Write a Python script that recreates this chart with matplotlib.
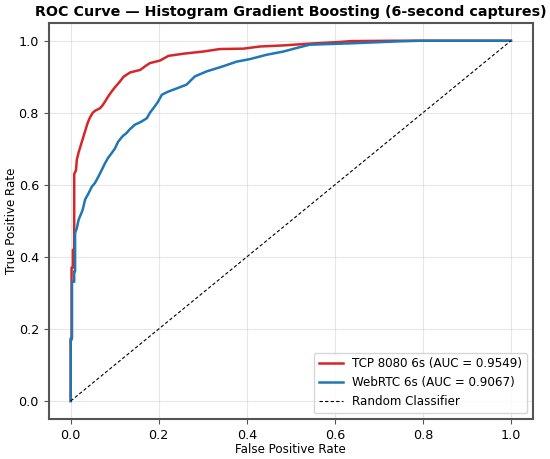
import numpy as np
import matplotlib.pyplot as plt

# ROC points (FPR, TPR)
tcp_fpr = [0.0, 0.0, 0.002, 0.002, 0.005, 0.005, 0.008, 0.008, 0.012, 0.014, 0.018,
           0.023, 0.028, 0.033, 0.038, 0.043, 0.050, 0.056, 0.067, 0.072, 0.078,
           0.085, 0.093, 0.100, 0.112, 0.120, 0.135, 0.145, 0.158, 0.170, 0.180,
           0.203, 0.222, 0.256, 0.301, 0.339, 0.392, 0.430, 0.483, 0.543, 0.604,
           0.638, 0.740, 0.800, 1.0]
tcp_tpr = [0.0, 0.17, 0.17, 0.37, 0.37, 0.42, 0.42, 0.63, 0.64, 0.67, 0.69,
           0.71, 0.73, 0.75, 0.77, 0.785, 0.80, 0.806, 0.813, 0.82, 0.831,
           0.845, 0.859, 0.87, 0.887, 0.90, 0.912, 0.915, 0.919, 0.93, 0.938,
           0.945, 0.958, 0.964, 0.970, 0.977, 0.978, 0.984, 0.987, 0.992, 0.996,
           0.999, 1.0, 1.0, 1.0]

webrtc_fpr = [0.0, 0.0, 0.003, 0.003, 0.008, 0.008, 0.010, 0.010, 0.014, 0.018,
              0.022, 0.027, 0.033, 0.040, 0.048, 0.055, 0.063, 0.070, 0.078, 0.085,
              0.093, 0.100, 0.108, 0.118, 0.127, 0.135, 0.146, 0.160, 0.173, 0.180,
              0.188, 0.198, 0.207, 0.220, 0.233, 0.263, 0.282, 0.309, 0.346, 0.377,
              0.407, 0.445, 0.483, 0.520, 0.543, 0.641, 0.740, 0.793, 1.0]
webrtc_tpr = [0.0, 0.174, 0.174, 0.331, 0.331, 0.36, 0.36, 0.466, 0.48, 0.503,
              0.515, 0.53, 0.56, 0.575, 0.595, 0.605, 0.623, 0.64, 0.66, 0.675,
              0.688, 0.70, 0.72, 0.735, 0.744, 0.755, 0.767, 0.775, 0.785, 0.80,
              0.813, 0.83, 0.850, 0.858, 0.864, 0.878, 0.901, 0.915, 0.929, 0.942,
              0.949, 0.961, 0.970, 0.982, 0.989, 0.993, 0.998, 1.0, 1.0]

tcp_auc = 0.9549
webrtc_auc = 0.9067

fig = plt.figure(figsize=(5.5, 4.59), dpi=100)
ax = fig.add_axes([0.0885, 0.0871, 0.8805, 0.8634])

ax.plot(tcp_fpr, tcp_tpr, color='#d62728', lw=1.8,
        label='TCP 8080 6s (AUC = %.4f)' % tcp_auc)
ax.plot(webrtc_fpr, webrtc_tpr, color='#1f77b4', lw=1.8,
        label='WebRTC 6s (AUC = %.4f)' % webrtc_auc)
ax.plot([0, 1], [0, 1], 'k--', lw=0.8, dashes=(3, 2), label='Random Classifier')

ax.set_xlabel('False Positive Rate', fontsize=8.6, labelpad=1)
ax.set_ylabel('True Positive Rate', fontsize=8.6, labelpad=0.5)
ax.set_title('ROC Curve \u2014 Histogram Gradient Boosting (6-second captures)',
             fontsize=10.3, fontweight='bold', pad=5)
ax.tick_params(labelsize=9.2, color='#555555')
ax.grid(True, alpha=0.3)
for s in ax.spines.values():
    s.set_color('#555555')
    s.set_linewidth(1.5)
ax.legend(loc='lower right', fontsize=8.6)

fig.savefig('out.png', dpi=100)
